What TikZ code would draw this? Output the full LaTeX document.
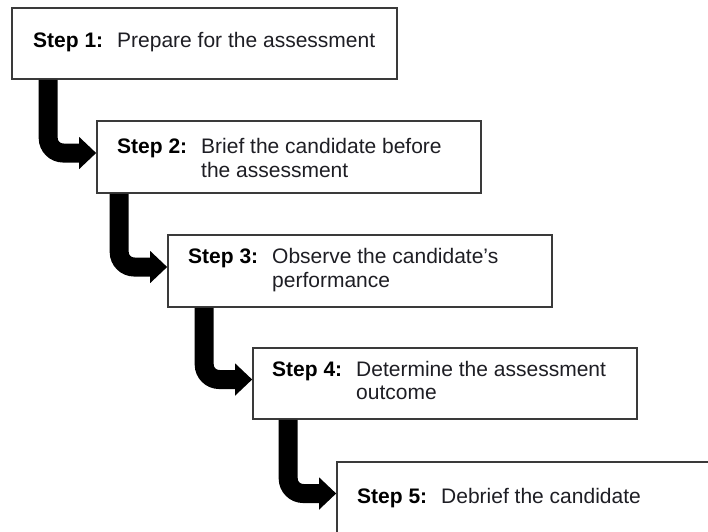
\documentclass[tikz,border=0pt]{standalone}
\usepackage{fontspec}
\setmainfont{Liberation Sans}
\usetikzlibrary{arrows.meta,calc}
\definecolor{boxline}{HTML}{3A3A3A}
\definecolor{txt}{HTML}{1E1E24}
\tikzset{
  stepbox/.style={draw=boxline, line width=1.6pt, fill=white, rectangle, inner sep=0pt, minimum width=384pt, minimum height=71pt},
  steplbl/.style={anchor=base west, inner sep=0pt, font=\fontsize{21}{24}\selectfont\bfseries, text=black},
  steptxt/.style={anchor=base west, inner sep=0pt, font=\fontsize{21}{24}\selectfont, text=txt},
  flowarr/.style={line width=19pt, black, rounded corners=15pt, -{Triangle[length=17pt,width=31pt]}}
}
\begin{document}
\begin{tikzpicture}[x=1pt,y=-1pt]
\useasboundingbox (0,0) rectangle (708,531);
\clip (0,0) rectangle (708,531);
\fill[white] (0,0) rectangle (708,531);
% boxes
\node[stepbox, minimum width=385pt] (b1) at (204.5,43.5) {};
\node[stepbox, minimum height=72pt] (b2) at (289,157) {};
\node[stepbox, minimum height=72pt] (b3) at (360,271) {};
\node[stepbox] (b4) at (445,383.5) {};
\node[stepbox] (b5) at (529,497.5) {};
% texts
\node[steplbl] (l1) at (33,47) {Step 1:};
\node[steptxt] (t1) at (117,47) {Prepare for the assessment};
\node[steplbl] (l2) at (117,153) {Step 2:};
\node[steptxt] (t2a) at (201,153) {Brief the candidate before};
\node[steptxt] (t2b) at (201,177) {the assessment};
\node[steplbl] (l3) at (188,263) {Step 3:};
\node[steptxt] (t3a) at (272,263) {Observe the candidate’s};
\node[steptxt] (t3b) at (272,287) {performance};
\node[steplbl] (l4) at (272,376) {Step 4:};
\node[steptxt] (t4a) at (356,376) {Determine the assessment};
\node[steptxt] (t4b) at (356,399) {outcome};
\node[steplbl] (l5) at (357,503) {Step 5:};
\node[steptxt] (t5) at (441,503) {Debrief the candidate};
% arrows
\coordinate (e2) at ([yshift=4pt]b2.west);
\coordinate (k2) at ([xshift=-48pt]e2);
\coordinate (e3) at ([yshift=4pt]b3.west);
\coordinate (k3) at ([xshift=-48pt]e3);
\coordinate (e4) at ([yshift=4pt]b4.west);
\coordinate (k4) at ([xshift=-48pt]e4);
\coordinate (e5) at ([yshift=4pt]b5.west);
\coordinate (k5) at ([xshift=-48pt]e5);
\draw[flowarr] (k2 |- b1.south) |- (e2);
\draw[flowarr] (k3 |- b2.south) |- (e3);
\draw[flowarr] (k4 |- b3.south) |- (e4);
\draw[flowarr] (k5 |- b4.south) |- (e5);
\end{tikzpicture}
\end{document}
